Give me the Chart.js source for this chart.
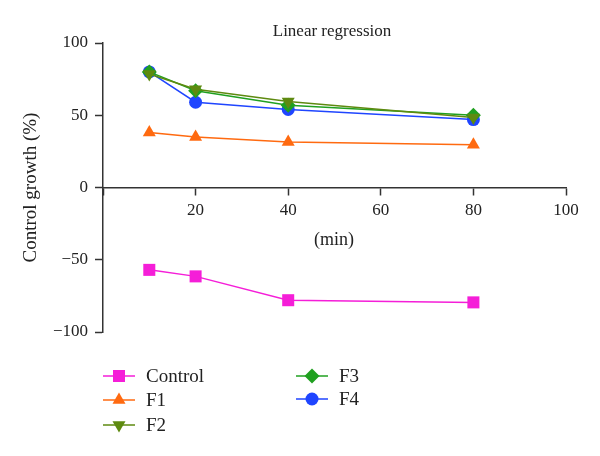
<!DOCTYPE html>
<html>
<head>
<meta charset="utf-8">
<script src="https://cdn.jsdelivr.net/npm/chart.js@4/dist/chart.umd.min.js"></script>
<style>
  html, body { margin: 0; padding: 0; background: #fff; }
  #wrap { width: 600px; height: 456px; }
</style>
</head>
<body>
<div id="wrap"><canvas id="canvas" width="600" height="456"></canvas></div>
<script>
/* Time points (min) and series values. */
const minutes = [10, 20, 40, 80]
const control = [-57, -61.5, -78, -79.5]
const f1 = [38, 35, 31.5, 29.5]
const f2 = [78.5, 68, 59.5, 48.5]
const f3 = [80, 67, 57, 50]
const f4 = [80, 59, 54, 47]
const yTicks = [-100, -50, 0, 50, 100]
const xTicks = [20, 40, 60, 80, 100]

const serif = "'Liberation Serif', 'Times New Roman', serif"
const axisColor = "#333"

/* Turn the value arrays into the {x, y} points Chart.js wants. */
const toPoints = values => values.map((v, i) => ({ x: minutes[i], y: v }))

const makeSet = (label, values, color, style, radius, rotation) => ({
  label,
  data: toPoints(values),
  showLine: true,
  borderColor: color,
  backgroundColor: color,
  borderWidth: 1.5,
  pointStyle: style,
  pointRadius: radius,
  pointRotation: rotation || 0,
  pointBorderWidth: 0,
  pointBackgroundColor: color
})

const datasets = [
  makeSet("Control", control, "#f51ed8", "rect", 8.5),
  makeSet("F1", f1, "#ff6a10", "triangle", 7.5),
  makeSet("F2", f2, "#5e8a10", "triangle", 7.5, 180),
  makeSet("F3", f3, "#20a020", "rectRot", 7.5),
  makeSet("F4", f4, "#1f45ff", "circle", 6.5)
]

/* Legend in two columns, and the free texts, drawn on the canvas. */
const legendSlots = [[103, 376], [103, 400], [103, 425], [296, 376], [296, 399]]

const textPlugin = {
  id: "texts",
  afterDraw(chart) {
    const ctx = chart.ctx
    ctx.save()
    ctx.fillStyle = "#222"
    ctx.font = "17px " + serif
    ctx.textAlign = "center"
    ctx.textBaseline = "alphabetic"
    ctx.fillText("Linear regression", 332, 36)
    ctx.font = "18px " + serif
    ctx.textBaseline = "middle"
    ctx.fillText("(min)", 334, 240)

    ctx.font = "19px " + serif
    ctx.textAlign = "left"
    chart.data.datasets.forEach((ds, i) => {
      const [x, y] = legendSlots[i]
      ctx.strokeStyle = ds.borderColor
      ctx.lineWidth = 1.5
      ctx.beginPath()
      ctx.moveTo(x, y)
      ctx.lineTo(x + 32, y)
      ctx.stroke()
      ctx.fillStyle = ds.backgroundColor
      Chart.helpers.drawPoint(ctx, {
        pointStyle: ds.pointStyle,
        radius: ds.pointRadius,
        rotation: ds.pointRotation,
        borderWidth: 0
      }, x + 16, y)
      ctx.fillStyle = "#222"
      ctx.fillText(ds.label, x + 43, y + 1)
    })
    ctx.restore()
  }
}

const ctx = document.getElementById("canvas").getContext("2d")
const chart = new Chart(ctx, {
  type: "scatter",
  data: { datasets },
  options: {
    responsive: false,
    animation: false,
    layout: { padding: { left: 0, top: 43, right: 34, bottom: 124 } },
    plugins: {
      legend: { display: false },
      tooltip: { enabled: false },
      title: { display: false }
    },
    scales: {
      x: {
        type: "linear",
        position: { y: 0 },
        min: 0,
        max: 100,
        afterFit: scale => { scale.height = 0 },
        afterBuildTicks: scale => { scale.ticks = [0].concat(xTicks).map(v => ({ value: v })) },
        ticks: {
          color: "#222",
          font: { family: serif, size: 17 },
          padding: 6,
          maxRotation: 0,
          callback: v => (v === 0 ? "" : v)
        },
        grid: { drawOnChartArea: false, drawTicks: true, tickLength: 7, color: axisColor, tickWidth: 1.5 },
        border: { color: axisColor, width: 1.5 }
      },
      y: {
        min: -100,
        max: 100,
        afterFit: scale => { scale.width = 103 },
        afterBuildTicks: scale => { scale.ticks = yTicks.map(v => ({ value: v })) },
        ticks: {
          color: "#222",
          font: { family: serif, size: 17 },
          padding: 7,
          callback: v => (v < 0 ? "\u2212" + Math.abs(v) : v)
        },
        title: {
          display: true,
          text: "Control growth (%)",
          color: "#222",
          font: { family: serif, size: 19 },
          padding: { top: 20, bottom: 0 }
        },
        grid: { drawOnChartArea: false, drawTicks: true, tickLength: 8, color: axisColor, tickWidth: 1.5 },
        border: { color: axisColor, width: 1.5 }
      }
    }
  },
  plugins: [textPlugin]
})
</script>
</body>
</html>
